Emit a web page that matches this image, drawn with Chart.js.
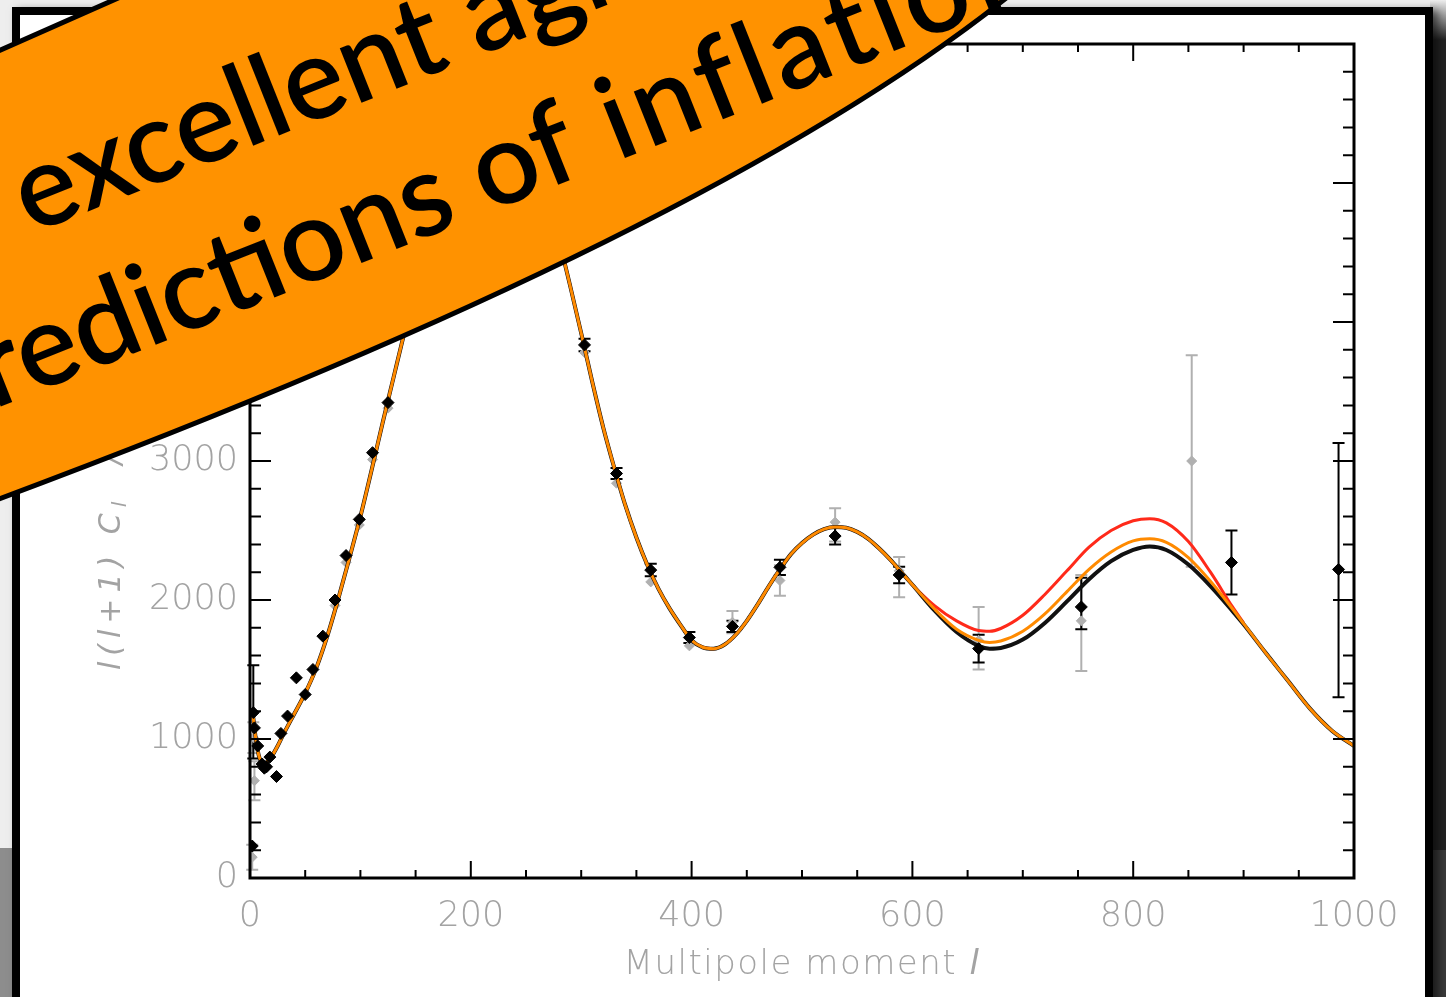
<!DOCTYPE html>
<html>
<head>
<meta charset="utf-8">
<script src="https://cdn.jsdelivr.net/npm/chart.js@4.4.1/dist/chart.umd.min.js"></script>
<style>
  html, body { margin: 0; padding: 0; }
  body { width: 1446px; height: 997px; overflow: hidden; position: relative; background: #222; }
  .strip { position: absolute; }
  #top-strip { left: 0; top: 0; width: 1446px; height: 8px; background: #ededed; }
  #right-top { left: 1430px; top: 0; width: 16px; height: 40px; background: linear-gradient(#ededed, #222); }
  #left-top { left: 0; top: 0; width: 13px; height: 848px; background: #eeeeee; }
  #left-bottom { left: 0; top: 848px; width: 13px; height: 149px; background: #8d8d8d; }
  #right-bottom { left: 1432px; top: 850px; width: 14px; height: 147px; background: #3a3a3a; }
  #card { position: absolute; left: 12px; top: 7px; width: 1421px; height: 1020px; box-sizing: border-box;
          border: 8px solid #000; background: #fff; box-shadow: 5px 3px 8px rgba(0,0,0,0.55); }
  #chart { position: absolute; left: 0; top: 0; }
</style>
</head>
<body>
<div class="strip" id="top-strip"></div>
<div class="strip" id="right-top"></div>
<div class="strip" id="left-top"></div>
<div class="strip" id="left-bottom"></div>
<div class="strip" id="right-bottom"></div>
<div id="card"></div>
<canvas id="chart" width="1446" height="997"></canvas>
<script>
// axes
const xTicks = [0, 200, 400, 600, 800, 1000];
const yTicks = [0, 1000, 2000, 3000, 4000, 5000, 6000];

// model spectrum, same for all three models up to l = 600
const lowL = [2, 4, 6, 8, 10, 13, 16, 20, 25, 30, 40, 50, 60, 70, 80, 90, 100, 110, 120, 130, 140, 150, 160, 170, 180, 190,
  200, 210, 220, 230, 240, 250, 260, 270, 280, 290, 300, 310, 320, 330, 340, 350, 360, 370, 380, 390,
  400, 410, 420, 430, 440, 450, 460, 470, 480, 490, 500, 510, 520, 530, 540, 550, 560, 570, 580, 590, 600];
const lowModel = [1220, 1080, 960, 880, 840, 825, 840, 880, 950, 1030, 1180, 1330, 1510, 1740, 2010, 2300, 2600, 2930, 3270, 3600, 3930, 4250, 4570, 4870, 5150, 5380,
  5550, 5660, 5700, 5680, 5590, 5420, 5190, 4900, 4590, 4260, 3920, 3570, 3240, 2950, 2680, 2450, 2250, 2080, 1940, 1820,
  1710, 1660, 1650, 1680, 1750, 1850, 1970, 2100, 2220, 2330, 2410, 2470, 2510, 2525, 2520, 2490, 2440, 2370, 2290, 2200, 2110];

// the models split above l = 600
const highL = [620, 640, 660, 670, 680, 700, 720, 740, 760, 780, 800, 815, 830, 850, 870, 890, 900, 920, 940, 960, 980, 1000];
const orangeHigh = [1935, 1790, 1710, 1695, 1705, 1775, 1900, 2060, 2220, 2345, 2425, 2440, 2415, 2305, 2135, 1935, 1830, 1620, 1420, 1220, 1060, 950];
const blackHigh = [1925, 1770, 1670, 1650, 1655, 1715, 1835, 1990, 2150, 2280, 2360, 2385, 2360, 2255, 2100, 1920, 1825, 1620, 1420, 1220, 1060, 950];
const redL = [620, 640, 660, 670, 680, 700, 720, 740, 760, 780, 800, 815, 830, 850, 870, 890, 900];
const redHigh = [1960, 1850, 1780, 1775, 1795, 1890, 2040, 2210, 2380, 2500, 2570, 2585, 2555, 2420, 2200, 1950, 1835];

// WMAP band powers (black), null = error bar too small to see
const wmapL = [2, 3, 4, 7, 11, 13, 15, 18, 24, 28, 34, 42, 50, 57, 66, 77, 87, 99, 111, 125, 303, 332, 363, 398, 437, 480, 530, 588, 660, 753, 889, 986];
const wmapV = [230, 1190, 1080, 950, 820, 790, 800, 870, 730, 1040, 1165, 1440, 1320, 1500, 1740, 2000, 2320, 2580, 3060, 3420, 3835, 2910, 2215, 1730, 1810, 2235, 2460, 2180, 1650, 1950, 2270, 2220];
const wmapLo = [null, 860, null, null, null, null, null, null, null, null, null, null, null, null, null, null, null, null, null, null, 3790, 2870, 2170, 1690, 1770, 2180, 2400, 2120, 1550, 1790, 2040, 1300];
const wmapHi = [null, 1530, null, null, null, null, null, null, null, null, null, null, null, null, null, null, null, null, null, null, 3880, 2950, 2260, 1770, 1850, 2290, 2520, 2240, 1750, 2160, 2500, 3130];

// other experiments (grey)
const otherL = [2, 3, 4, 77, 87, 99, 111, 125, 303, 332, 363, 398, 437, 480, 530, 588, 660, 753, 853];
const otherV = [150, 1010, 700, 1960, 2270, 2540, 3010, 3380, 3780, 2840, 2130, 1670, 1840, 2140, 2560, 2210, 1710, 1850, 3000];
const otherLo = [60, 900, 560, null, null, null, null, null, null, null, null, null, 1760, 2030, 2420, 2020, 1500, 1490, 2240];
const otherHi = [240, 1120, 840, null, null, null, null, null, null, null, null, null, 1920, 2250, 2660, 2310, 1950, 2180, 3760];

const pts = (ls, vs) => ls.map((l, i) => ({ x: l, y: vs[i] }));

const errorBars = {
    id: 'errorBars',
    beforeDatasetsDraw(chart) {
        const { ctx, scales: { x, y } } = chart;
        const sets = [
            { l: otherL, lo: otherLo, hi: otherHi, color: '#b0b0b0' },
            { l: wmapL, lo: wmapLo, hi: wmapHi, color: '#000' },
        ];
        ctx.save();
        ctx.lineWidth = 2;
        sets.forEach(s => {
            ctx.strokeStyle = s.color;
            ctx.beginPath();
            s.l.forEach((l, i) => {
                if (s.lo[i] === null) return;
                const px = x.getPixelForValue(l);
                const y1 = y.getPixelForValue(s.lo[i]);
                const y2 = y.getPixelForValue(s.hi[i]);
                ctx.moveTo(px, y1); ctx.lineTo(px, y2);
                ctx.moveTo(px - 6, y1); ctx.lineTo(px + 6, y1);
                ctx.moveTo(px - 6, y2); ctx.lineTo(px + 6, y2);
            });
            ctx.stroke();
        });
        ctx.restore();
    }
};

// IDL style box with inward ticks, axis titles and the orange banner
const overlay = {
    id: 'overlay',
    afterDraw(chart) {
        const { ctx, chartArea: a, scales: { x, y } } = chart;
        ctx.save();
        ctx.strokeStyle = '#000';
        ctx.lineWidth = 3;
        ctx.strokeRect(a.left, a.top, a.right - a.left, a.bottom - a.top);
        ctx.lineWidth = 2;
        ctx.beginPath();
        for (let v = xTicks[0]; v <= xTicks[xTicks.length - 1]; v += 50) {
            const px = x.getPixelForValue(v);
            const len = v % 200 === 0 ? 17 : 8;
            ctx.moveTo(px, a.bottom); ctx.lineTo(px, a.bottom - len);
            ctx.moveTo(px, a.top); ctx.lineTo(px, a.top + len);
        }
        for (let v = yTicks[0]; v <= yTicks[yTicks.length - 1]; v += 200) {
            const py = y.getPixelForValue(v);
            const len = v % 1000 === 0 ? 21 : 11;
            ctx.moveTo(a.left, py); ctx.lineTo(a.left + len, py);
            ctx.moveTo(a.right, py); ctx.lineTo(a.right - len, py);
        }
        ctx.stroke();

        ctx.fillStyle = '#a3a3a3';
        ctx.textBaseline = 'alphabetic';
        ctx.textAlign = 'left';
        const upright = '300 34px "DejaVu Sans", sans-serif';
        const slanted = 'italic 300 34px "DejaVu Sans", sans-serif';

        // x title: "Multipole moment" + italic l
        ctx.letterSpacing = '1.5px';
        ctx.font = upright;
        const w1 = ctx.measureText('Multipole moment ').width;
        ctx.font = slanted;
        const w2 = ctx.measureText('l').width;
        let tx = (a.left + a.right) / 2 - (w1 + w2) / 2;
        ctx.font = upright;
        ctx.fillText('Multipole moment ', tx, 974);
        ctx.font = slanted;
        ctx.fillText('l', tx + w1, 974);

        // y title, rotated
        ctx.save();
        ctx.translate(112, 670);
        ctx.rotate(-Math.PI / 2);
        ctx.textBaseline = 'middle';
        ctx.letterSpacing = '6px';
        let cx = 0;
        const part = (t, dy, f) => { ctx.font = f; ctx.fillText(t, cx, dy); cx += ctx.measureText(t).width; };
        part('l(l+1) C', 0, 'italic 300 30px "DejaVu Sans", sans-serif');
        part('l', 9, 'italic 300 20px "DejaVu Sans", sans-serif');
        part('  /  2π  (μK²)', 0, 'italic 300 30px "DejaVu Sans", sans-serif');
        ctx.restore();

        // banner
        ctx.letterSpacing = '0px';
        ctx.beginPath();
        ctx.moveTo(-20, 59);
        ctx.lineTo(125, -5);
        ctx.lineTo(1010, -5);
        ctx.quadraticCurveTo(709, 236, -20, 506);
        ctx.closePath();
        ctx.fillStyle = '#ff9200';
        ctx.fill();
        ctx.lineWidth = 5;
        ctx.strokeStyle = '#000';
        ctx.stroke();

        ctx.rotate(-21.7 * Math.PI / 180);
        ctx.fillStyle = '#000';
        ctx.textAlign = 'left';
        ctx.textBaseline = 'alphabetic';
        ctx.font = '600 115px Lato, "Open Sans", sans-serif';
        ctx.fillText('excellent agreement with', -58, 229);
        const start2 = -222;
        const head = 'predictions of ';
        ctx.fillText(head, start2, 378);
        const headW = ctx.measureText(head).width;
        ctx.letterSpacing = '5px';
        ctx.fillText('inflation', start2 + headW + 6, 378);
        ctx.restore();
    }
};

const tickFont = { family: '"DejaVu Sans", sans-serif', size: 35, weight: '300' };

new Chart(document.getElementById('chart'), {
    type: 'line',
    data: {
        datasets: [
            {
                label: 'WMAP', data: pts(wmapL, wmapV), showLine: false, order: 1,
                pointStyle: 'rectRot', pointRadius: 6, pointBackgroundColor: '#000', pointBorderColor: '#000', pointBorderWidth: 1
            },
            {
                label: 'model (orange)', data: pts(lowL.concat(highL), lowModel.concat(orangeHigh)), order: 2,
                borderColor: '#ff8a00', borderWidth: 3, pointRadius: 0, cubicInterpolationMode: 'monotone'
            },
            {
                label: 'model (black)', data: pts(lowL.concat(highL), lowModel.concat(blackHigh)), order: 3,
                borderColor: '#111', borderWidth: 4, pointRadius: 0, cubicInterpolationMode: 'monotone'
            },
            {
                label: 'model (red)', data: pts(lowL.concat(redL), lowModel.concat(redHigh)), order: 4,
                borderColor: '#ff2a1a', borderWidth: 3, pointRadius: 0, cubicInterpolationMode: 'monotone'
            },
            {
                label: 'other', data: pts(otherL, otherV), showLine: false, order: 5,
                pointStyle: 'rectRot', pointRadius: 5, pointBackgroundColor: '#b0b0b0', pointBorderColor: '#b0b0b0'
            },
        ],
    },
    options: {
        responsive: false,
        animation: false,
        devicePixelRatio: 1,
        layout: { autoPadding: false, padding: { left: 70, right: 92, top: 44, bottom: 19 } },
        plugins: { legend: { display: false }, tooltip: { enabled: false } },
        scales: {
            x: {
                type: 'linear',
                min: xTicks[0],
                max: xTicks[xTicks.length - 1],
                afterFit: s => { s.height = 100; },
                afterBuildTicks: s => { s.ticks = xTicks.map(v => ({ value: v })); },
                grid: { display: false },
                border: { display: false },
                ticks: { padding: 10, color: '#a3a3a3', font: tickFont, maxRotation: 0, autoSkip: false, callback: v => String(v) },
            },
            y: {
                type: 'linear',
                min: yTicks[0],
                max: yTicks[yTicks.length - 1],
                afterFit: s => { s.width = 180; },
                afterBuildTicks: s => { s.ticks = yTicks.map(v => ({ value: v })); },
                grid: { display: false },
                border: { display: false },
                ticks: { padding: 4, color: '#a3a3a3', font: tickFont, autoSkip: false, callback: v => String(v) },
            },
        },
    },
    plugins: [errorBars, overlay],
});
</script>
</body>
</html>
